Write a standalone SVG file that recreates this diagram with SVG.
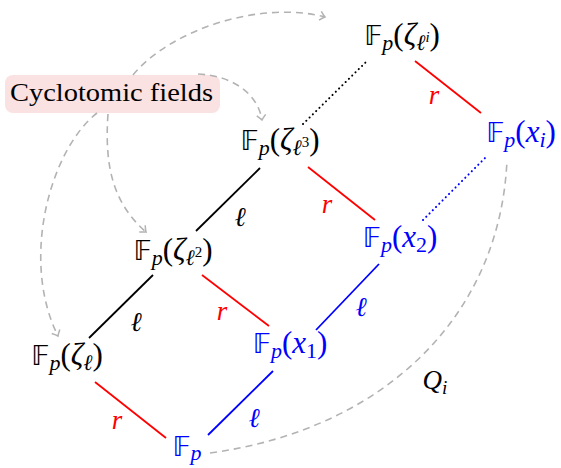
<svg xmlns="http://www.w3.org/2000/svg" width="561" height="468" viewBox="0 0 561 468">
<style>
.m{font-family:"Liberation Serif","DejaVu Serif",serif;font-size:31px;text-anchor:middle;fill:#000}
.b{fill:#0000ff}
.i{font-style:italic}
.s{font-size:22px}
.ss{font-size:15px}
.bb{font-family:"DejaVu Sans","Noto Sans",sans-serif;font-size:27px}
.lbl{font-family:"Liberation Serif","DejaVu Serif",serif;font-style:italic;font-size:27px;text-anchor:middle}
.e{fill:none;stroke-width:1.8}
.gd{fill:none;stroke:#b3b3b3;stroke-width:1.6;stroke-dasharray:7 5}
</style>
<defs>
<marker id="to" markerUnits="userSpaceOnUse" markerWidth="12" markerHeight="12" refX="0" refY="0" viewBox="-7 -6 9 12" orient="auto">
<path d="M-5,-4.5 Q-1.5,-1 0,0 Q-1.5,1 -5,4.5" fill="none" stroke="#b3b3b3" stroke-width="1.5"/>
</marker>
</defs>

<g id="cyclotomic">
<rect x="5" y="75" width="215" height="38" rx="8" fill="#fbe2e2"/>
<text x="10" y="101" font-family="Liberation Serif,serif" font-size="25" textLength="203" lengthAdjust="spacingAndGlyphs">Cyclotomic fields</text>
</g>

<g id="connectors">
<line class="e" stroke="#000" x1="196" y1="231" x2="260" y2="168"/>
<line class="e" stroke="#000" x1="153" y1="275" x2="89" y2="338"/>
<line class="e" stroke="#ff0000" x1="202" y1="275" x2="269" y2="326"/>
<line class="e" stroke="#ff0000" x1="308" y1="167" x2="375" y2="220"/>
<line class="e" stroke="#ff0000" x1="415" y1="61" x2="481" y2="113"/>
<line class="e" stroke="#ff0000" x1="95" y1="382" x2="166" y2="438"/>
<line class="e" stroke="#0000ff" x1="208" y1="435" x2="273" y2="371"/>
<line class="e" stroke="#0000ff" x1="316" y1="330" x2="379" y2="264"/>
<line fill="none" stroke="#000" stroke-width="2" stroke-dasharray="0.1 4.5" stroke-linecap="round" x1="303" y1="124" x2="367" y2="61"/>
<line fill="none" stroke="#0000ff" stroke-width="2" stroke-dasharray="0.1 4.5" stroke-linecap="round" x1="423" y1="220" x2="486" y2="157"/>
<path class="gd" d="M210,453 C380,430 500,320 507,160"/>
<path class="gd" d="M133,75 C170,30 260,0 325,17" marker-end="url(#to)"/>
<path class="gd" d="M198,74 C235,76 258,95 262,120" marker-end="url(#to)"/>
<path class="gd" d="M108,114 C104,170 115,205 146,232" marker-end="url(#to)"/>
<path class="gd" d="M97,113 C50,150 20,260 58,336" marker-end="url(#to)"/>
<text class="lbl" x="240" y="226">ℓ</text>
<text class="lbl" x="136" y="331">ℓ</text>
<text class="lbl" x="222" y="320" fill="#ff0000">r</text>
<text class="lbl" x="327" y="213" fill="#ff0000">r</text>
<text class="lbl" x="434" y="104" fill="#ff0000">r</text>
<text class="lbl" x="117" y="429" fill="#ff0000">r</text>
<text class="lbl" x="254" y="427" fill="#0000ff">ℓ</text>
<text class="lbl" x="361" y="316" fill="#0000ff">ℓ</text>
<text class="lbl" x="435" y="389">Q<tspan font-size="19" dy="5">i</tspan></text>
</g>

<g id="n-zeta-li"><text class="m" x="402" y="45"><tspan class="bb">𝔽</tspan><tspan class="i s" dy="5">p</tspan><tspan dy="-5">(</tspan><tspan class="i">ζ</tspan><tspan class="i s" dy="5">ℓ</tspan><tspan class="i ss" dy="-8">i</tspan><tspan dy="3">)</tspan></text></g>
<g id="n-zeta-l3"><text class="m" x="280" y="150"><tspan class="bb">𝔽</tspan><tspan class="i s" dy="5">p</tspan><tspan dy="-5">(</tspan><tspan class="i">ζ</tspan><tspan class="i s" dy="5">ℓ</tspan><tspan class="ss" dy="-8">3</tspan><tspan dy="3">)</tspan></text></g>
<g id="n-zeta-l2"><text class="m" x="173" y="260"><tspan class="bb">𝔽</tspan><tspan class="i s" dy="5">p</tspan><tspan dy="-5">(</tspan><tspan class="i">ζ</tspan><tspan class="i s" dy="5">ℓ</tspan><tspan class="ss" dy="-8">2</tspan><tspan dy="3">)</tspan></text></g>
<g id="n-zeta-l"><text class="m" x="67" y="365"><tspan class="bb">𝔽</tspan><tspan class="i s" dy="5">p</tspan><tspan dy="-5">(</tspan><tspan class="i">ζ</tspan><tspan class="i s" dy="5">ℓ</tspan><tspan dy="-5">)</tspan></text></g>
<g id="n-fp"><text class="m b" x="187" y="456"><tspan class="bb">𝔽</tspan><tspan class="i s" dy="4">p</tspan></text></g>
<g id="n-x1"><text class="m b" x="290" y="353"><tspan class="bb">𝔽</tspan><tspan class="i s" dy="5">p</tspan><tspan dy="-5">(</tspan><tspan class="i">x</tspan><tspan class="s" dy="5">1</tspan><tspan dy="-5">)</tspan></text></g>
<g id="n-x2"><text class="m b" x="400" y="247"><tspan class="bb">𝔽</tspan><tspan class="i s" dy="5">p</tspan><tspan dy="-5">(</tspan><tspan class="i">x</tspan><tspan class="s" dy="5">2</tspan><tspan dy="-5">)</tspan></text></g>
<g id="n-xi"><text class="m b" x="521" y="142"><tspan class="bb">𝔽</tspan><tspan class="i s" dy="5">p</tspan><tspan dy="-5">(</tspan><tspan class="i">x</tspan><tspan class="i s" dy="5">i</tspan><tspan dy="-5">)</tspan></text></g>
</svg>
